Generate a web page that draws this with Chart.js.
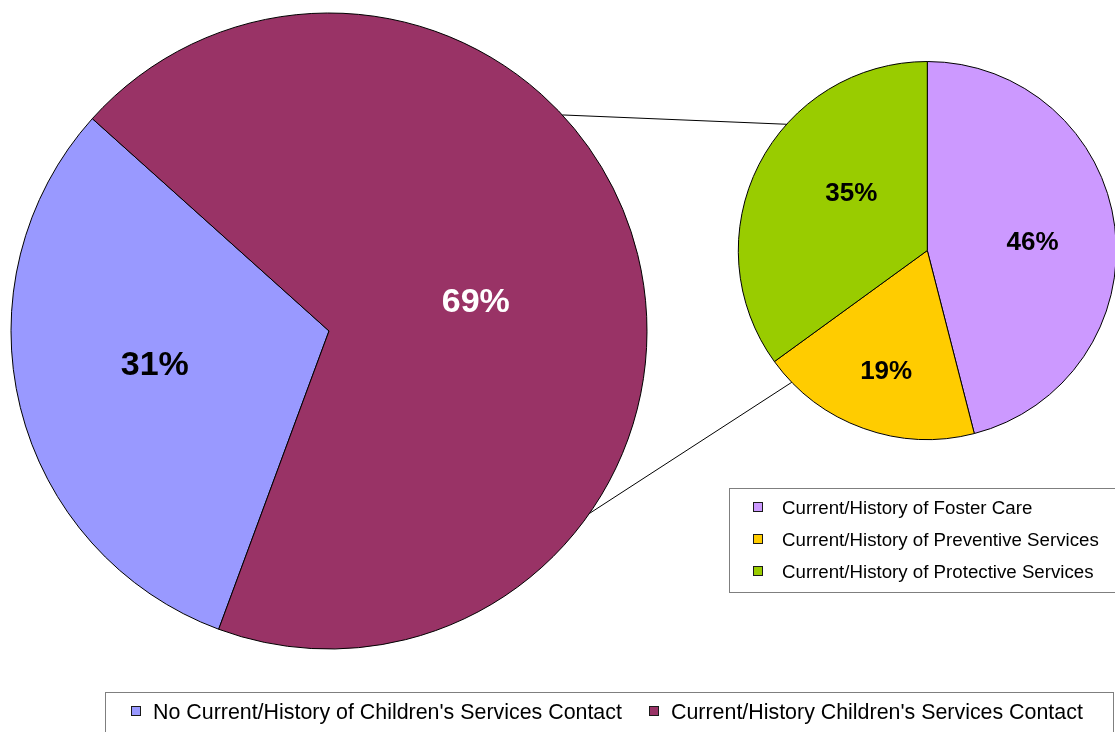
<!DOCTYPE html>
<html>
<head>
<meta charset="utf-8">
<title>Children's Services Contact</title>
<script src="https://cdn.jsdelivr.net/npm/chart.js@4.4.1/dist/chart.umd.min.js"></script>
<style>
  html, body { margin: 0; padding: 0; background: #ffffff; overflow: hidden; }
  #stage { position: relative; width: 1115px; height: 732px; overflow: hidden; }
  #stage canvas { position: absolute; left: 0; top: 0; }
</style>
</head>
<body>
<div id="stage">
  <canvas id="mainPie" width="1115" height="732"></canvas>
  <canvas id="detailPie" width="1115" height="732"></canvas>
</div>
<script>
// Overall split: contact with Children's Services (percent)
const mainCategories = [
  "No Current/History of Children's Services Contact",
  "Current/History Children's Services Contact"
];
const mainShares = [31, 69];
const mainColors = ['#9999FF', '#993366'];
const mainLabelColors = ['#000000', '#FFFFFF'];

// Breakdown of those with contact (percent)
const detailCategories = [
  'Current/History of Foster Care',
  'Current/History of Preventive Services',
  'Current/History of Protective Services'
];
const detailShares = [46, 19, 35];
const detailColors = ['#CC99FF', '#FFCC00', '#99CC00'];
const detailLabelColors = ['#000000', '#000000', '#000000'];

const FONT = '"Liberation Sans", Arial, Helvetica, sans-serif';

// Percent labels placed in polar terms around each slice's mid angle
const sliceLabels = {
  id: 'sliceLabels',
  afterDatasetsDraw(chart, args, o) {
    const ctx = chart.ctx;
    const meta = chart.getDatasetMeta(0);
    const values = chart.data.datasets[0].data;
    ctx.save();
    ctx.font = 'bold ' + o.size + 'px ' + FONT;
    ctx.textAlign = 'center';
    ctx.textBaseline = 'alphabetic';
    meta.data.forEach((arc, i) => {
      const p = arc.getProps(['x', 'y', 'startAngle', 'endAngle', 'outerRadius'], true);
      const a = (p.startAngle + p.endAngle) / 2 + (o.shift[i] || 0) * Math.PI / 180;
      const r = p.outerRadius * o.radius[i];
      ctx.fillStyle = o.colors[i];
      ctx.fillText(values[i] + '%', p.x + r * Math.cos(a), p.y + r * Math.sin(a) + o.size * 0.358);
    });
    ctx.restore();
  }
};

// Legend inside a bordered box, as a row or a column
const boxedLegend = {
  id: 'boxedLegend',
  afterDraw(chart, args, o) {
    const ctx = chart.ctx;
    const ds = chart.data.datasets[0];
    const labels = chart.data.labels;
    ctx.save();
    ctx.fillStyle = '#ffffff';
    ctx.fillRect(o.left, o.top, o.right - o.left, o.bottom - o.top);
    ctx.strokeStyle = o.borderColor;
    ctx.lineWidth = 1;
    ctx.strokeRect(o.left + 0.5, o.top + 0.5, o.right - o.left, o.bottom - o.top);
    ctx.font = o.size + 'px ' + FONT;
    ctx.textAlign = 'left';
    ctx.textBaseline = 'alphabetic';
    const m = o.marker;
    const drawItem = (i, x, yc) => {
      const my = Math.round(yc - m / 2);
      ctx.fillStyle = ds.backgroundColor[i];
      ctx.fillRect(x, my, m, m);
      ctx.strokeStyle = '#1a1a1a';
      ctx.strokeRect(x + 0.5, my + 0.5, m - 1, m - 1);
      ctx.fillStyle = '#000000';
      ctx.fillText(labels[i], x + m + o.textGap, yc + o.size * 0.358);
    };
    if (o.layout === 'row') {
      const widths = labels.map(l => m + o.textGap + ctx.measureText(l).width);
      let x = o.itemsLeft;
      labels.forEach((l, i) => {
        drawItem(i, Math.round(x), o.rowY);
        x += widths[i] + o.itemGap;
      });
    } else {
      labels.forEach((l, i) => drawItem(i, o.itemsLeft, o.rowY + i * o.rowGap));
    }
    ctx.restore();
  }
};

Chart.register(sliceLabels, boxedLegend);

const mainChart = new Chart(document.getElementById('mainPie'), {
  type: 'pie',
  data: {
    labels: mainCategories,
    datasets: [{
      data: mainShares,
      backgroundColor: mainColors,
      borderColor: '#000000',
      borderWidth: 1,
      clip: false
    }]
  },
  options: {
    responsive: false,
    animation: false,
    events: [],
    rotation: 200.3,
    radius: 318,
    layout: { padding: { left: 0, right: 457, top: 0, bottom: 70 } },
    plugins: {
      legend: { display: false },
      tooltip: { enabled: false },
      sliceLabels: { size: 34, colors: mainLabelColors, radius: [0.557, 0.472], shift: [3.5, 1.8] },
      boxedLegend: {
        layout: 'row', left: 105, top: 692, right: 1113, bottom: 760,
        borderColor: '#7f7f7f', size: 21.4, marker: 10, textGap: 12, itemGap: 27,
        itemsLeft: 131, rowY: 711
      }
    }
  }
});

// Lines joining the overall pie to the breakdown pie
const connectors = {
  id: 'connectors',
  beforeDatasetsDraw(chart, args, o) {
    const src = mainChart.getDatasetMeta(0).data[0].getProps(['x', 'y', 'outerRadius'], true);
    const dst = chart.getDatasetMeta(0).data[0].getProps(['x', 'y', 'outerRadius'], true);
    const ctx = chart.ctx;
    ctx.save();
    ctx.strokeStyle = '#000000';
    ctx.lineWidth = 1;
    o.pairs.forEach(([a1, a2]) => {
      const t1 = a1 * Math.PI / 180, t2 = a2 * Math.PI / 180;
      ctx.beginPath();
      ctx.moveTo(src.x + src.outerRadius * Math.cos(t1), src.y + src.outerRadius * Math.sin(t1));
      ctx.lineTo(dst.x + dst.outerRadius * Math.cos(t2), dst.y + dst.outerRadius * Math.sin(t2));
      ctx.stroke();
    });
    ctx.restore();
  }
};

new Chart(document.getElementById('detailPie'), {
  type: 'pie',
  data: {
    labels: detailCategories,
    datasets: [{
      data: detailShares,
      backgroundColor: detailColors,
      borderColor: '#000000',
      borderWidth: 1,
      clip: false
    }]
  },
  plugins: [connectors],
  options: {
    responsive: false,
    animation: false,
    events: [],
    rotation: 0,
    radius: 189,
    layout: { padding: { left: 739.6, right: 0, top: 0, bottom: 231 } },
    plugins: {
      legend: { display: false },
      tooltip: { enabled: false },
      connectors: { pairs: [[-42.8, 221.9], [35.0, 135.8]] },
      sliceLabels: { size: 26, colors: detailLabelColors, radius: [0.559, 0.665, 0.507], shift: [1.8, -0.7, 10.6] },
      boxedLegend: {
        layout: 'column', left: 729, top: 488, right: 1130, bottom: 592,
        borderColor: '#7f7f7f', size: 18.7, marker: 10, textGap: 19, itemsLeft: 753, rowY: 507, rowGap: 32
      }
    }
  }
});
</script>
</body>
</html>
